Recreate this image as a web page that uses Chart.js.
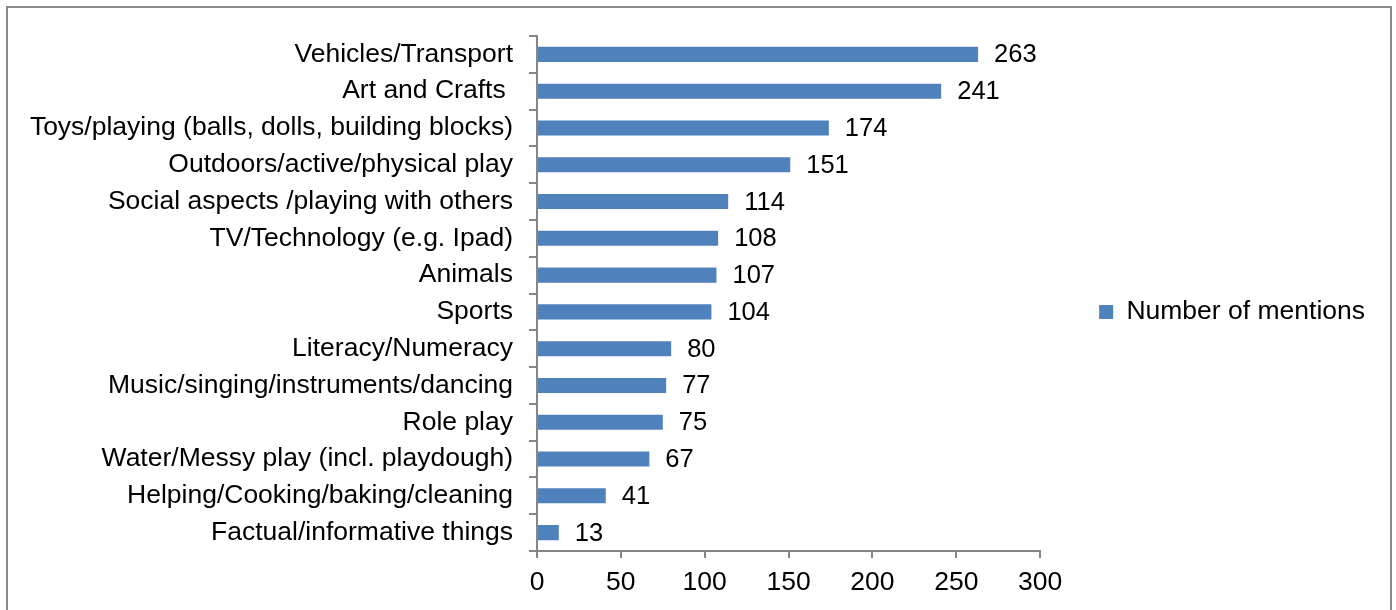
<!DOCTYPE html>
<html>
<head>
<meta charset="utf-8">
<script src="https://cdn.jsdelivr.net/npm/chart.js@4"></script>
<style>
  body { margin: 0; background: #fff; overflow: hidden; }
  #wrap { position: relative; width: 1396px; height: 610px; }
  #frame { position: absolute; left: 6px; top: 6px; width: 1382px; height: 700px;
           border: 2px solid #898989; pointer-events: none; }
</style>
</head>
<body>
<div id="wrap">
  <canvas id="chart"></canvas>
  <div id="frame"></div>
</div>
<script>
// Categories listed top to bottom, as in the picture
const categories = [
  'Vehicles/Transport',
  'Art and Crafts ',
  'Toys/playing (balls, dolls, building blocks)',
  'Outdoors/active/physical play',
  'Social aspects /playing with others',
  'TV/Technology (e.g. Ipad)',
  'Animals',
  'Sports',
  'Literacy/Numeracy',
  'Music/singing/instruments/dancing',
  'Role play',
  'Water/Messy play (incl. playdough)',
  'Helping/Cooking/baking/cleaning',
  'Factual/informative things'
];
const mentions = [263, 241, 174, 151, 114, 108, 107, 104, 80, 77, 75, 67, 41, 13];
const seriesName = 'Number of mentions';
const xTicks = [0, 50, 100, 150, 200, 250, 300];

const fontFamily = '"Liberation Sans", Arial, sans-serif';
const fontSize = 26.5;
const axisColor = '#868686';
const barColor = '#4F81BD';

// Values printed to the right of each bar
const valueLabels = {
  id: 'valueLabels',
  afterDatasetsDraw(chart) {
    const ctx = chart.ctx;
    const meta = chart.getDatasetMeta(0);
    ctx.save();
    ctx.font = '25.5px ' + fontFamily;
    ctx.fillStyle = '#000';
    ctx.textAlign = 'left';
    ctx.textBaseline = 'middle';
    meta.data.forEach((bar, i) => {
      ctx.fillText(String(mentions[i]), bar.x + 16, bar.y + 1);
    });
    ctx.restore();
  }
};

// The legend sits a little above the middle of the full height
const legendNudge = {
  id: 'legendNudge',
  afterLayout(chart) {
    chart.legend.top -= 11;
    chart.legend.bottom -= 11;
  }
};

new Chart(document.getElementById('chart'), {
  type: 'bar',
  data: {
    labels: categories,
    datasets: [{
      label: seriesName,
      data: mentions,
      backgroundColor: barColor,
      borderWidth: 0,
      categoryPercentage: 1,
      barPercentage: 0.41
    }]
  },
  options: {
    indexAxis: 'y',
    responsive: true,
    maintainAspectRatio: false,
    animation: false,
    layout: { padding: { left: 10, right: 21, top: 36, bottom: 0 } },
    plugins: {
      legend: {
        position: 'right',
        labels: {
          boxWidth: 14,
          boxHeight: 14,
          padding: 59,
          color: '#000',
          font: { family: fontFamily, size: fontSize }
        }
      },
      tooltip: { enabled: false }
    },
    scales: {
      x: {
        min: 0,
        max: 300,
        afterBuildTicks(scale) {
          scale.ticks = xTicks.map(v => ({ value: v }));
        },
        afterFit(scale) { scale.height = 59; },
        grid: { drawOnChartArea: false, drawTicks: true, tickLength: 7, color: axisColor, lineWidth: 2 },
        border: { color: axisColor, width: 2 },
        ticks: { color: '#000', padding: 9, font: { family: fontFamily, size: fontSize } }
      },
      y: {
        afterFit(scale) { scale.width = 527; },
        grid: { drawOnChartArea: false, drawTicks: true, tickLength: 8, color: axisColor, lineWidth: 2, offset: true },
        border: { color: axisColor, width: 2 },
        ticks: { color: '#000', padding: 16, font: { family: fontFamily, size: fontSize } }
      }
    }
  },
  plugins: [valueLabels, legendNudge]
});
</script>
</body>
</html>
